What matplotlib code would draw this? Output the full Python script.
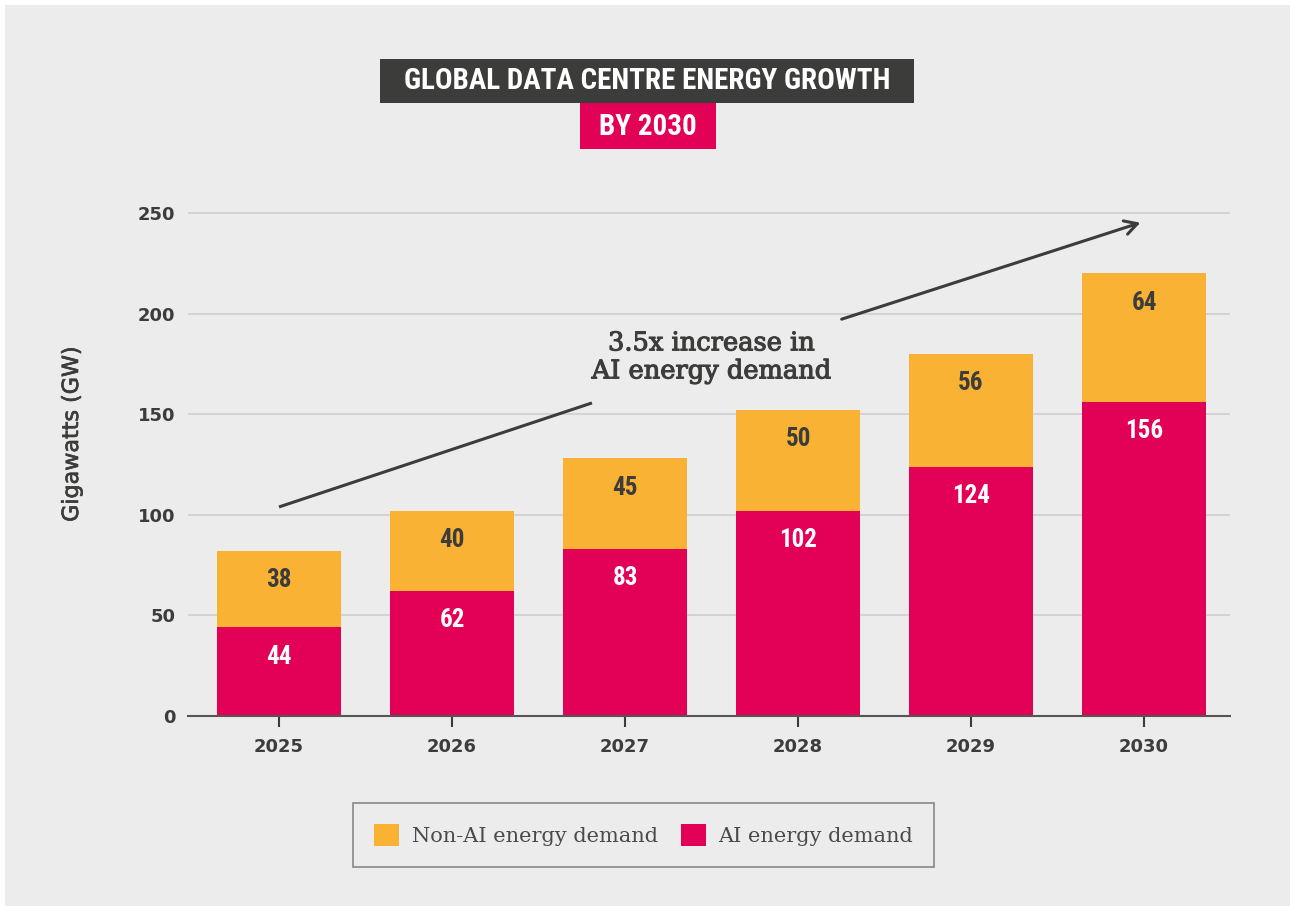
import matplotlib
matplotlib.use("Agg")
import matplotlib.pyplot as plt
from matplotlib.patches import Rectangle, Patch
from matplotlib import font_manager
import matplotlib.patheffects as pe

years = ["2025", "2026", "2027", "2028", "2029", "2030"]
ai_demand = [44, 62, 83, 102, 124, 156]
non_ai_demand = [38, 40, 45, 50, 56, 64]
y_ticks = [0, 50, 100, 150, 200, 250]

BG = "#ECECEC"
ORANGE = "#F9B233"
PINK = "#E30057"
DARK = "#3C3C3B"
GRID = "#CFCFCF"

names = {f.name for f in font_manager.fontManager.ttflist}
if "Roboto Condensed" in names:
    COND = dict(family="Roboto Condensed")
elif "Liberation Sans Narrow" in names:
    COND = dict(family="Liberation Sans Narrow")
else:
    COND = dict(family="DejaVu Sans", fontstretch="condensed")

fig = plt.figure(figsize=(12.9, 9.06), dpi=100)
fig.patch.set_facecolor("white")
fig.add_artist(Rectangle((5 / 1290, 0), 1, 1 - 5 / 906, transform=fig.transFigure,
                         facecolor=BG, edgecolor="none", zorder=-10))

ax = fig.add_axes([188 / 1290, 1 - 716 / 906, (1230 - 188) / 1290, 255 * 2.012 / 906])
ax.set_facecolor(BG)
ax.patch.set_alpha(0)

x = list(range(len(years)))
width = 0.72
ax.bar(x, ai_demand, width=width, color=PINK, zorder=3, label="AI energy demand")
ax.bar(x, non_ai_demand, width=width, bottom=ai_demand, color=ORANGE, zorder=3,
       label="Non-AI energy demand")

lab_font = dict(fontweight="bold", fontsize=18, **COND)
for xi, a, n in zip(x, ai_demand, non_ai_demand):
    ax.annotate(str(a), (xi, a), xytext=(0, -21), textcoords="offset points",
                ha="center", va="center", color="white", zorder=5, **lab_font)
    ax.annotate(str(n), (xi, a + n), xytext=(0, -21), textcoords="offset points",
                ha="center", va="center", color=DARK, zorder=5, **lab_font)

ax.set_xlim(-0.526, 5.497)
ax.set_ylim(0, 255)
ax.set_yticks(y_ticks)
ax.set_yticklabels([str(t) for t in y_ticks])
ax.set_xticks(x)
ax.set_xticklabels(years)
for t in ax.get_yticklabels() + ax.get_xticklabels():
    t.set_fontweight("bold")
    t.set_fontsize(13)
    t.set_color(DARK)
ax.tick_params(axis="y", length=0, pad=9)
ax.tick_params(axis="x", length=8, width=1.5, color=DARK, pad=8)
for yv in y_ticks[1:]:
    ax.axhline(yv, color=GRID, linewidth=1.2, zorder=1)
for s in ["top", "right", "left"]:
    ax.spines[s].set_visible(False)
ax.spines["bottom"].set_color("#555555")
ax.spines["bottom"].set_linewidth(1.5)
ax.spines["bottom"].set_zorder(4)

ylab = ax.set_ylabel("Gigawatts (GW)", fontsize=16, color=DARK)
ylab.set_path_effects([pe.withStroke(linewidth=0.5, foreground=DARK)])
ax.yaxis.set_label_coords((82 - 188) / 1042, (716 - 434) / 513)

# annotation
ax.plot([0, 1.809], [103.9, 155.6], color=DARK, linewidth=2.2, zorder=6,
        solid_capstyle="butt")
ax.annotate("", xy=(4.994, 245.6), xytext=(3.237, 196.8),
            arrowprops=dict(arrowstyle="->,head_length=0.9,head_width=0.5",
                            color=DARK, lw=2.2), zorder=6)
note = ax.text(2.5, 178.5, "3.5x increase in\nAI energy demand", ha="center", va="center",
               family="DejaVu Serif", fontsize=18.5, color=DARK,
               linespacing=1.15, zorder=6)
note.set_path_effects([pe.withStroke(linewidth=0.8, foreground=DARK)])

# title boxes
fig.add_artist(Rectangle((380 / 1290, 1 - 103 / 906), (914 - 380) / 1290, 44 / 906,
                         transform=fig.transFigure, facecolor=DARK, edgecolor="none", zorder=1))
fig.add_artist(Rectangle((580 / 1290, 1 - 149 / 906), (716 - 580) / 1290, 46 / 906,
                         transform=fig.transFigure, facecolor=PINK, edgecolor="none", zorder=1))
fig.text(647 / 1290, 1 - 81 / 906, "GLOBAL DATA CENTRE ENERGY GROWTH", ha="center", va="center",
         color="white", fontsize=21, fontweight="bold", zorder=3, **COND)
fig.text(648 / 1290, 1 - 127 / 906, "BY 2030", ha="center", va="center",
         color="white", fontsize=21, fontweight="bold", zorder=3, **COND)

handles = [Patch(facecolor=ORANGE, label="Non-AI energy demand"),
           Patch(facecolor=PINK, label="AI energy demand")]
leg = fig.legend(handles=handles, loc="center", bbox_to_anchor=(643.5 / 1290, 1 - 835 / 906),
                 ncol=2, frameon=True, fancybox=False, edgecolor="#6F6F6F",
                 facecolor=BG, prop=dict(family="DejaVu Serif", size=15),
                 handlelength=1.2, handleheight=1.2, handletextpad=0.6, columnspacing=1.1,
                 borderpad=1.0, borderaxespad=0)
leg.get_frame().set_linewidth(1.2)
for t in leg.get_texts():
    t.set_color("#4A4A4A")

fig.savefig("out.png", dpi=100, facecolor=fig.get_facecolor())
